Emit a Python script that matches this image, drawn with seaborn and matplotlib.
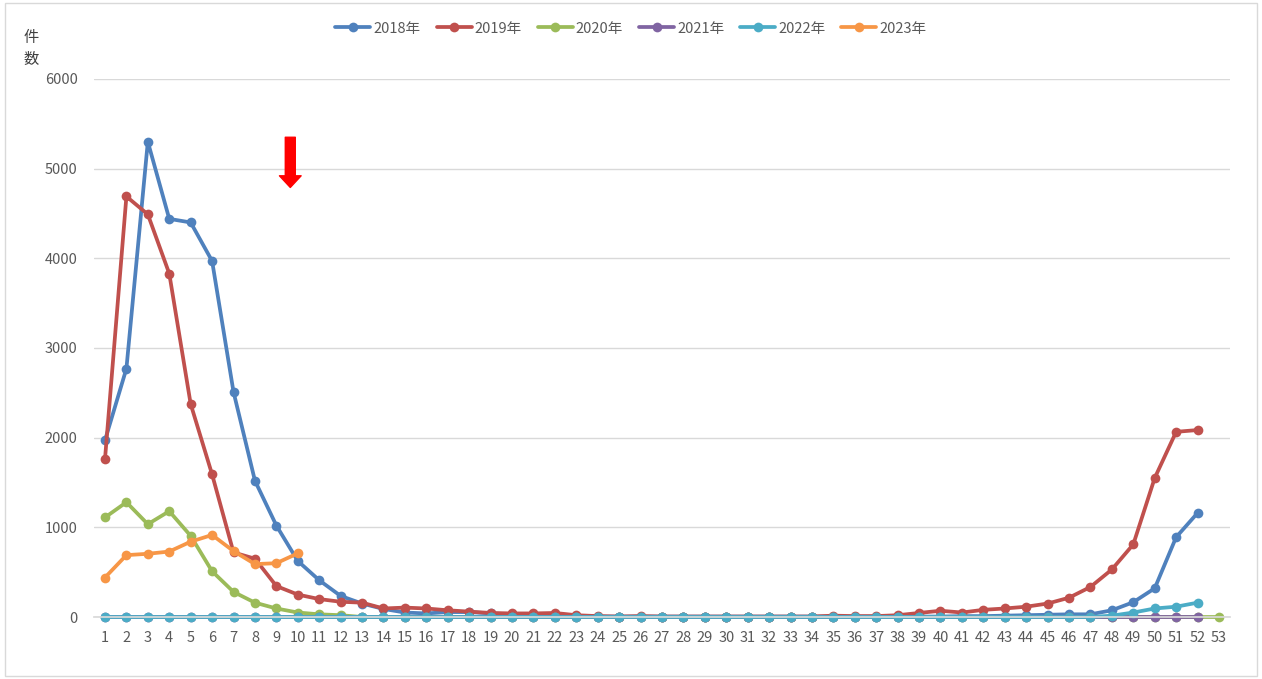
import numpy as np
import pandas as pd
import matplotlib
matplotlib.use('Agg')
import matplotlib.pyplot as plt
from matplotlib.patches import Rectangle
import seaborn as sns

# ---- data (weekly counts) ----
years = ['2018年', '2019年', '2020年', '2021年', '2022年', '2023年']
colors = ['#4F81BD', '#C0504D', '#9BBB59', '#8064A2', '#4BACC6', '#F79646']

v2018 = [1970, 2770, 5300, 4440, 4400, 3970, 2510, 1520, 1020, 625,
         410, 235, 150, 90, 50, 40, 55, 55, 40, 30,
         20, 20, 10, 5, 5, 5, 5, 5, 5, 5,
         5, 5, 5, 5, 5, 5, 5, 5, 5, 5,
         10, 10, 15, 20, 25, 30, 30, 75, 165, 320, 890, 1160]
v2019 = [1760, 4690, 4490, 3830, 2375, 1590, 720, 650, 345, 250,
         200, 170, 160, 95, 105, 95, 75, 60, 45, 40,
         40, 45, 20, 10, 5, 10, 5, 5, 5, 5,
         5, 5, 5, 5, 15, 10, 10, 20, 45, 70,
         50, 80, 95, 115, 150, 215, 335, 530, 810, 1550, 2065, 2085]
v2020 = [1110, 1280, 1035, 1180, 905, 510, 280, 160, 95, 50,
         30, 20] + [0] * 41
v2021 = [0] * 52
v2022 = [0] * 47 + [15, 50, 95, 115, 160]
v2023 = [440, 690, 705, 730, 840, 915, 735, 590, 600, 710]

series = [v2018, v2019, v2020, v2021, v2022, v2023]
week_ticks = list(range(1, 54))

rows = []
for yr, vals in zip(years, series):
    for i, v in enumerate(vals):
        rows.append({'week': i + 1, 'count': v, 'year': yr})
df = pd.DataFrame(rows)

# ---- style ----
sns.set_theme(style='white')
plt.rcParams['font.family'] = ['Noto Sans CJK JP', 'DejaVu Sans']

fig = plt.figure(figsize=(12.62, 6.79), dpi=100)
ax = fig.add_axes([0.0747, 0.0913, 0.8997, 0.7924])

sns.lineplot(data=df, x='week', y='count', hue='year', hue_order=years,
             palette=colors, marker='o', markersize=7, markeredgewidth=0,
             linewidth=2.7, ax=ax, legend=False, clip_on=False)

ax.set_xlim(0.5, 53.5)
ax.set_ylim(0, 6000)
ax.set_yticks(range(0, 6001, 1000))
ax.set_xticks(week_ticks)
ax.set_xticklabels([str(w) for w in week_ticks])
ax.tick_params(axis='both', labelsize=10.5, colors='#595959', length=0)
ax.tick_params(axis='x', pad=10)
ax.tick_params(axis='y', pad=12)
ax.yaxis.grid(True, color='#D9D9D9', linewidth=1)
ax.set_axisbelow(True)
for s in ['top', 'right', 'left']:
    ax.spines[s].set_visible(False)
ax.spines['bottom'].set_color('#D9D9D9')
ax.set_xlabel('')
ax.set_ylabel('')

# y-axis title (vertical characters)
fig.text(0.025, 0.958, '件\n数', fontsize=11, color='#404040',
         va='top', ha='center', linespacing=1.4)

# red arrow annotation
ax.annotate('', xy=(9.65, 4790), xytext=(9.65, 5350),
            arrowprops=dict(arrowstyle='simple,head_length=0.7,head_width=1.3,tail_width=0.6',
                            color='red', shrinkA=0, shrinkB=0))

# legend at top
handles = [plt.Line2D([0], [0], color=c, linewidth=2.7, marker='o',
                      markersize=7, markeredgewidth=0) for c in colors]
fig.legend(handles, years, loc='center', bbox_to_anchor=(0.5, 0.958), ncol=6,
           frameon=False, fontsize=10.5, handlelength=2.4, columnspacing=1.1,
           handletextpad=0.2, labelcolor='#595959')

# outer chart border
fig.patches.append(Rectangle((0.004, 0.004), 0.992, 0.992, transform=fig.transFigure,
                             fill=False, edgecolor='#D9D9D9', linewidth=1))

fig.savefig('out.png', dpi=100)
